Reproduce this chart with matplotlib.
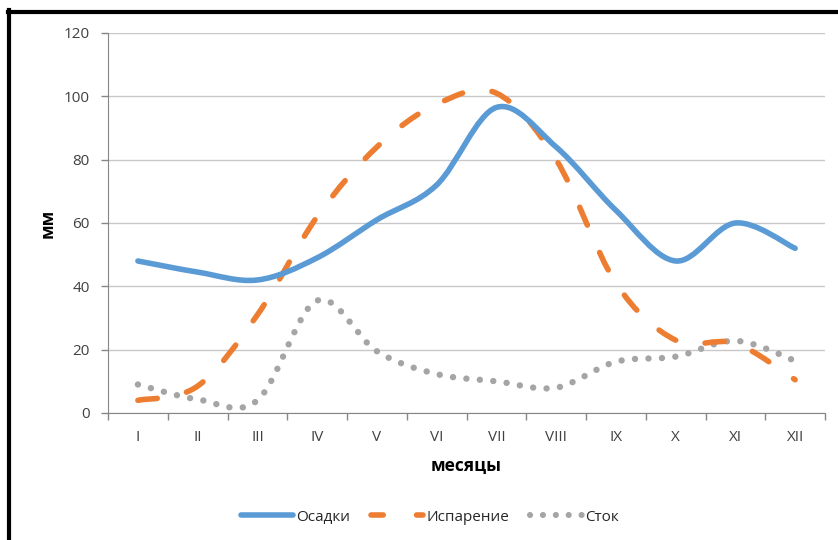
import numpy as np
import matplotlib
matplotlib.use('Agg')
import matplotlib.pyplot as plt
from matplotlib.path import Path
from matplotlib.patches import PathPatch
from matplotlib.lines import Line2D

plt.rcParams['font.family'] = ['Open Sans', 'DejaVu Sans']

months = ['I', 'II', 'III', 'IV', 'V', 'VI', 'VII', 'VIII', 'IX', 'X', 'XI', 'XII']
osadki = [48, 44.5, 42, 49, 61, 72, 96.5, 84, 64, 48, 60, 52]
isparenie = [4, 8.5, 31, 62, 84, 97.5, 101, 80, 41, 23, 22, 10.5]
stok = [9, 4.3, 4, 35.5, 19.5, 12.3, 10, 8, 16.2, 17.8, 22.8, 16.5]

blue = '#5B9BD5'
orange = '#ED7D31'
grey = '#A5A5A5'


def smooth_path(y):
    # Excel-like smoothing: Catmull-Rom converted to cubic Bezier
    x = np.arange(len(y), dtype=float)
    y = np.asarray(y, dtype=float)
    pts = [(x[0], y[0])]
    codes = [Path.MOVETO]
    n = len(y)
    for i in range(n - 1):
        i0 = max(i - 1, 0)
        i3 = min(i + 2, n - 1)
        c1 = (x[i] + (x[i + 1] - x[i0]) / 6, y[i] + (y[i + 1] - y[i0]) / 6)
        c2 = (x[i + 1] - (x[i3] - x[i]) / 6, y[i + 1] - (y[i3] - y[i]) / 6)
        pts += [c1, c2, (x[i + 1], y[i + 1])]
        codes += [Path.CURVE4] * 3
    return Path(pts, codes)


fig = plt.figure(figsize=(8.38, 5.40), dpi=100)
ax = fig.add_axes([0.1289, 0.2352, 0.8556, 0.7037])

ax.add_patch(PathPatch(smooth_path(stok), fill=False, edgecolor=grey, lw=4.6,
                       linestyle=(0, (0.01, 2.1)), capstyle='round', zorder=3))
ax.add_patch(PathPatch(smooth_path(isparenie), fill=False, edgecolor=orange, lw=4.0,
                       linestyle=(0, (3.5, 5.4)), capstyle='round', zorder=4))
ax.add_patch(PathPatch(smooth_path(osadki), fill=False, edgecolor=blue, lw=4.0,
                       capstyle='round', joinstyle='round', zorder=5))

ax.set_xlim(-0.5, len(months) - 0.5)
ax.set_ylim(0, 120)
ax.set_yticks(np.arange(0, 121, 20))
ax.grid(axis='y', color='#C8C8C8', lw=1)
ax.set_axisbelow(True)

ax.set_xticks(np.arange(-0.5, len(months), 1.0))
ax.set_xticklabels([])
ax.set_xticks(np.arange(len(months)), minor=True)
ax.set_xticklabels(months, minor=True)
ax.tick_params(axis='x', which='major', length=5, color='#868686', width=1)
ax.tick_params(axis='x', which='minor', length=0, pad=12, labelsize=11, labelcolor='#404040')
ax.tick_params(axis='y', length=5, color='#868686', width=1, labelsize=11, labelcolor='#404040', pad=8)

for s in ['top', 'right']:
    ax.spines[s].set_visible(False)
for s in ['left', 'bottom']:
    ax.spines[s].set_color('#868686')

ax.set_ylabel('мм', fontsize=12.5, fontweight='bold', labelpad=5)
ax.set_xlabel('месяцы', fontsize=12.5, fontweight='bold', labelpad=9)

handles = [
    Line2D([], [], color=blue, lw=4.0, solid_capstyle='round', label='Осадки'),
    Line2D([], [], color=orange, lw=4.0, linestyle=(0, (2.2, 6.0)), dash_capstyle='round', label='Испарение'),
    Line2D([], [], color=grey, lw=4.4, linestyle=(0, (0.01, 2.1)), dash_capstyle='round', label='Сток'),
]
ax.legend(handles=handles, loc='center', bbox_to_anchor=(0.449, -0.274), ncol=3,
          frameon=False, fontsize=11, handlelength=3.4, handletextpad=0.2,
          columnspacing=1.4, labelcolor='#262626')

fig.add_artist(Line2D([9 / 838, 9 / 838], [0, 1 - 10 / 540], color='black', lw=3,
                      transform=fig.transFigure))
fig.add_artist(Line2D([7.5 / 838, 1], [1 - 11.5 / 540, 1 - 11.5 / 540], color='black', lw=3,
                      transform=fig.transFigure))

fig.savefig('out.png', dpi=100)
